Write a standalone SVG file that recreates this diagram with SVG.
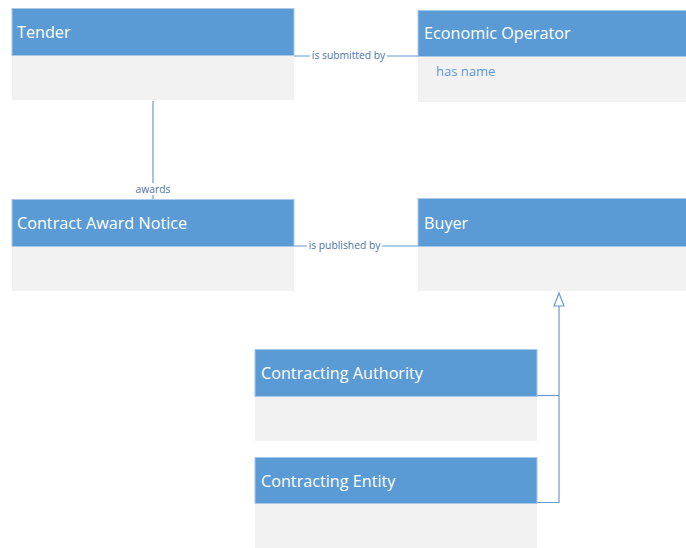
<svg xmlns="http://www.w3.org/2000/svg" width="686" height="548" viewBox="0 0 686 548">
<style>
.hd{fill:#5B9BD5;stroke:#A9C8EA;stroke-width:1}
.bd{fill:#F2F2F2}
.t{font-family:"Open Sans","Liberation Sans",sans-serif;font-size:16.2px;fill:#FFFFFF}
.attr{font-family:"Open Sans","Liberation Sans",sans-serif;font-size:13px;fill:#5B9BD5}
.ln{fill:none;stroke:#6A9AD2;stroke-width:1.2}
.lbl{font-family:"Open Sans","Liberation Sans",sans-serif;font-size:10.3px;fill:#4A75A8;text-anchor:middle}
.lb{fill:#FFFFFF}
</style>
<rect width="686" height="548" fill="#FFFFFF"/>
<g id="connectors">
<line class="ln" x1="294" y1="56" x2="418" y2="56"/>
<rect class="lb" x="310" y="49" width="77" height="12"/>
<text class="lbl" x="348.5" y="58.5">is submitted by</text>
<line class="ln" x1="153" y1="101" x2="153" y2="199"/>
<rect class="lb" x="135" y="183" width="36" height="12"/>
<text class="lbl" x="153" y="192.5">awards</text>
<line class="ln" x1="294" y1="246" x2="418" y2="246"/>
<rect class="lb" x="307" y="239" width="75" height="12"/>
<text class="lbl" x="344.5" y="248.5">is published by</text>
<polyline class="ln" points="537,395.5 559,395.5"/>
<polyline class="ln" points="537,502.5 559,502.5 559,306"/>
<polygon points="559,293 554,306 564,306" fill="#FFFFFF" stroke="#6A9AD2" stroke-width="1.2"/>
</g>
<g id="tender">
<rect class="bd" x="12" y="55" width="282" height="45"/>
<rect class="hd" x="12" y="8.5" width="282" height="47"/>
<text class="t" x="17" y="38">Tender</text>
</g>
<g id="economic-operator">
<rect class="bd" x="418" y="56" width="268" height="46"/>
<rect class="hd" x="418" y="10.5" width="270" height="46"/>
<text class="t" x="424" y="39">Economic Operator</text>
<text class="attr" x="436" y="76">has name</text>
</g>
<g id="contract-award-notice">
<rect class="bd" x="12" y="246" width="282" height="45"/>
<rect class="hd" x="12" y="199.5" width="282" height="47"/>
<text class="t" x="17" y="229">Contract Award Notice</text>
</g>
<g id="buyer">
<rect class="bd" x="418" y="246" width="268" height="45"/>
<rect class="hd" x="418" y="198.5" width="270" height="48"/>
<text class="t" x="424" y="229">Buyer</text>
</g>
<g id="contracting-authority">
<rect class="bd" x="255" y="396" width="282" height="45"/>
<rect class="hd" x="255" y="349.5" width="282" height="47"/>
<text class="t" x="261" y="379">Contracting Authority</text>
</g>
<g id="contracting-entity">
<rect class="bd" x="255" y="503" width="282" height="45"/>
<rect class="hd" x="255" y="457.5" width="282" height="46"/>
<text class="t" x="261" y="487">Contracting Entity</text>
</g>
</svg>
